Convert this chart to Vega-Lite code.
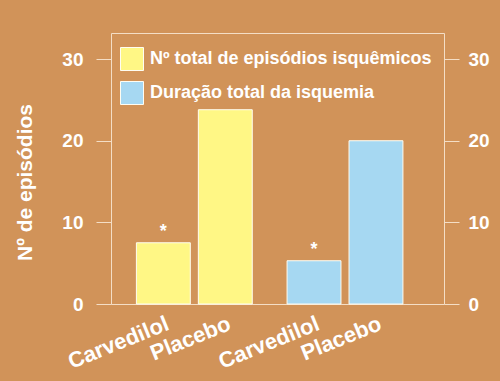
{
  "$schema": "https://vega.github.io/schema/vega-lite/v6.json",
  "autosize": "none",
  "width": 333,
  "height": 271,
  "padding": {"left": 111, "top": 33, "right": 56, "bottom": 77},
  "background": "#D19359",
  "config": {
    "font": "Liberation Sans",
    "view": {"stroke": "#F4DEC6", "strokeWidth": 1}
  },
  "data": {
    "values": [
      {"metric": "Nº total de episódios isquêmicos", "group": "A", "treatment": "Carvedilol", "value": 7.5, "sig": "*"},
      {"metric": "Nº total de episódios isquêmicos", "group": "A", "treatment": "Placebo", "value": 23.8, "sig": ""},
      {"metric": "Duração total da isquemia", "group": "B", "treatment": "Carvedilol", "value": 5.3, "sig": "*"},
      {"metric": "Duração total da isquemia", "group": "B", "treatment": "Placebo", "value": 20.0, "sig": ""}
    ]
  },
  "encoding": {
    "x": {"field": "group", "type": "nominal", "axis": null,
      "scale": {"paddingInner": 0.19, "paddingOuter": 0.2, "align": 0.37}},
    "xOffset": {"field": "treatment", "type": "nominal",
      "scale": {"paddingInner": 0.13, "paddingOuter": 0.05}}
  },
  "layer": [
    {
      "mark": {"type": "bar", "stroke": "#FFFDF2", "strokeWidth": 1},
      "encoding": {
        "y": {"field": "value", "type": "quantitative",
          "scale": {"domain": [0, 33.2], "nice": false},
          "axis": {"orient": "left", "values": [0, 10, 20, 30], "grid": false, "domain": false,
            "tickSize": 15, "tickColor": "#F4DEC6", "labelColor": "white", "labelFontSize": 19,
            "labelFontWeight": "bold", "labelPadding": 13, "labelFont": "Liberation Sans",
            "title": "Nº de episódios", "titleColor": "white", "titleFontSize": 21, "titleFontWeight": "bold",
            "titleFont": "Liberation Sans", "titleX": -86, "titleY": 149, "titleBaseline": "middle", "titleAngle": -90, "titleAlign": "center"}},
        "color": {"field": "metric", "type": "nominal",
          "sort": ["Nº total de episódios isquêmicos", "Duração total da isquemia"],
          "scale": {"domain": ["Nº total de episódios isquêmicos", "Duração total da isquemia"], "range": ["#FFF785", "#A6D8F2"]},
          "legend": {"orient": "none", "legendX": 9, "legendY": 14, "title": null, "symbolType": "square",
            "symbolSize": 529, "symbolStrokeColor": "#FFFDF2", "symbolStrokeWidth": 1, "symbolOpacity": 1,
            "labelColor": "white", "labelFontSize": 18, "labelFontWeight": "bold", "labelFont": "Liberation Sans",
            "labelOffset": 6, "rowPadding": 6, "labelLimit": 400, "padding": 0}}
      }
    },
    {
      "mark": {"type": "text", "color": "white", "fontSize": 18, "fontWeight": "bold", "baseline": "middle", "dy": -11},
      "encoding": {
        "y": {"field": "value", "type": "quantitative",
          "scale": {"domain": [0, 33.2], "nice": false},
          "axis": {"orient": "right", "values": [0, 10, 20, 30], "grid": false, "domain": false,
            "tickSize": 15, "tickColor": "#F4DEC6", "labelColor": "white", "labelFontSize": 19,
            "labelFontWeight": "bold", "labelPadding": 9, "labelFont": "Liberation Sans", "title": null}},
        "text": {"field": "sig"}
      }
    },
    {
      "mark": {"type": "text", "color": "white", "fontSize": 22, "fontWeight": "bold", "font": "Liberation Sans",
        "angle": -22, "align": "right", "baseline": "middle", "dx": -3, "dy": 19},
      "encoding": {
        "y": {"datum": 0, "type": "quantitative", "axis": null},
        "text": {"field": "treatment"}
      }
    }
  ],
  "resolve": {"axis": {"y": "independent"}}
}
